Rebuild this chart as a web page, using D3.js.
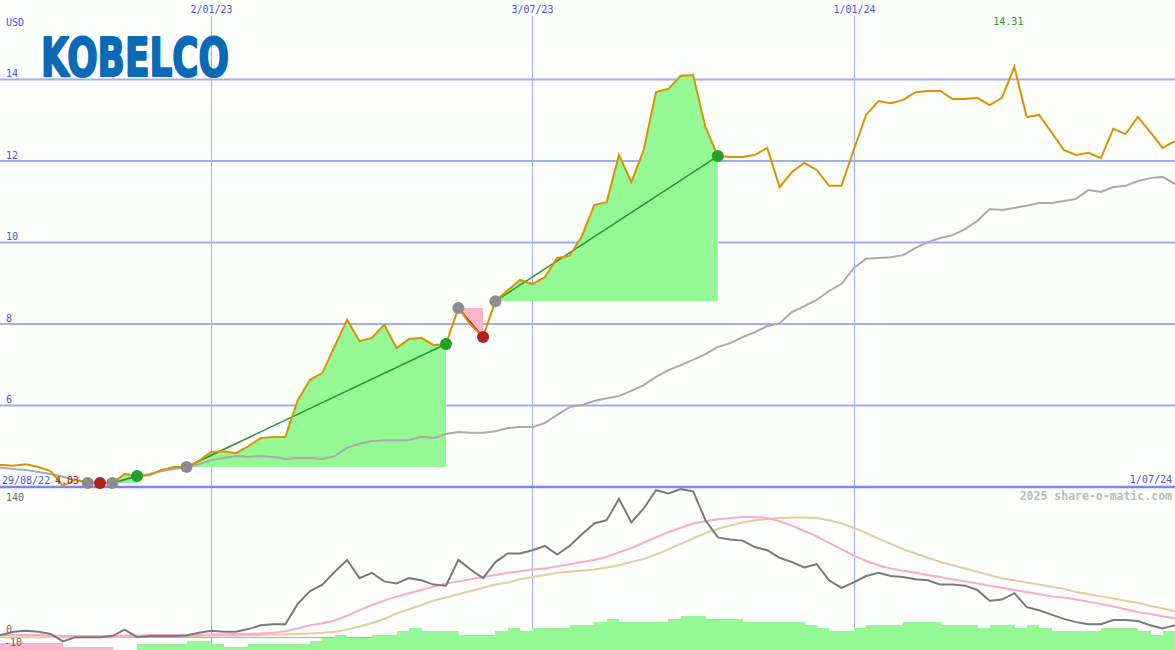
<!DOCTYPE html>
<html><head><meta charset="utf-8">
<script src="https://cdn.jsdelivr.net/npm/d3@7"></script>
<style>html,body{margin:0;padding:0;background:#fcfffc;overflow:hidden}svg{display:block}</style>
</head><body><svg id="c" width="1175" height="650"></svg>
<script>
// ---------- data ----------
const firstWeek = "2022-08-29";           // weekly closes, one per Monday
const price = [4.55,4.54,4.52,4.56,4.49,4.39,4.03,4.17,4.10,4.10,4.10,4.32,4.27,4.29,4.42,4.49,4.49,4.64,4.86,4.88,
  4.83,5.00,5.20,5.23,5.23,6.13,6.63,6.80,7.46,8.10,7.58,7.66,7.98,7.41,7.63,7.66,7.48,7.51,8.39,7.98,
  7.68,8.56,8.83,9.08,8.98,9.15,9.62,9.67,10.16,10.92,10.99,12.15,11.48,12.27,13.69,13.77,14.09,14.11,12.83,12.12,
  12.10,12.10,12.15,12.32,11.36,11.73,11.95,11.78,11.39,11.39,12.27,13.13,13.47,13.42,13.50,13.69,13.72,13.72,13.52,13.52,
  13.55,13.37,13.55,14.31,13.08,13.13,12.71,12.27,12.15,12.20,12.07,12.79,12.66,13.08,12.71,12.32,12.49];
const average = [4.48,4.47,4.44,4.42,4.37,4.32,4.25,4.17,4.12,4.10,4.10,4.17,4.27,4.32,4.39,4.44,4.49,4.56,4.66,4.71,
  4.76,4.74,4.76,4.74,4.69,4.71,4.71,4.69,4.76,4.96,5.06,5.13,5.15,5.15,5.15,5.23,5.20,5.30,5.35,5.33,
  5.33,5.37,5.45,5.47,5.47,5.57,5.77,5.96,6.01,6.11,6.18,6.23,6.36,6.50,6.70,6.87,6.99,7.12,7.26,7.44,
  7.53,7.68,7.80,7.95,8.02,8.29,8.44,8.59,8.81,8.98,9.37,9.60,9.62,9.64,9.69,9.87,10.01,10.11,10.18,10.33,
  10.53,10.82,10.80,10.85,10.90,10.97,10.97,11.02,11.07,11.29,11.24,11.36,11.39,11.51,11.58,11.61,11.44];
const momentum = [2,2,5,6,5,3,-4,0,0,0,1,7,0,1,1,1,1.5,4,6,5,
  5,7.5,11,12,12,31,43,49,61,72,55,60,52,50,55,53,49,48,72,63,
  55,70,78,78,81,85,77,85,96,106,109,129,107,120,137,134,138,136,109,93,
  91,90,84,81,74,70,65,68,53,46,51,57,60,57,56,54,53,49,49,48,
  44,34,35,41,28,25,21,17,14,12,12,16,16,15,11,8,11];
const fastAvg = [2,2,2,2,2,1.5,1,1,1,1,1,1.5,1.5,2,2,2,2,2,2.5,2.5,
  3,3,3.5,4,5.5,8,11,13,15.5,20,25,30,34,38,41,44,47,50,52,54,
  56,58,60,61.5,63,64,66,68,70,72,75,79,83,88,93,98,102,106,108,110,
  111,112,112,111,108,104,99,94,88,82,76,71,67,64,62,60,58,56,54,52,
  50,48,46,44,42,40,38,37,35,33,31,28.5,26,23.5,21.5,19.5,17.5];
const slowAvg = [0,0,0,0,0,0,0,0,0,0,0,0.5,0.5,1,1,1,1,1,1.5,1.5,
  1.5,2,2,2.5,2.5,3,3.5,4,5,7,10,13,17,22,26,30,34,37,40,43,
  46,49,51,54,56,58,60,61,62,63,65,67,70,73,77,82,87,92,97,101,
  104,107,109,110,111,111.5,111.5,111,109,106,102,97,92,87,82,78,74,70,67,64,
  61,58,55,53,51,49,47,45,42,40,38,36,34,32,29,27,24];
const strength = [-7,-7,-7,-7,-7,-7,-7,-3,-3,-3,-3,0,0,6,6,6,6,9,9,6,
  3,3,6,6,6,6,6,9,12,15,12,12,15,15,19,22,19,19,19,15,
  15,15,19,22,19,22,22,22,25,25,28,31,28,28,28,28,31,34,34,31,
  31,31,28,28,28,28,28,25,22,19,19,22,25,25,25,28,28,28,25,25,
  25,22,25,25,22,25,22,19,19,19,19,22,22,22,19,15,19];
const signalFrom = [8,10,16,38,41];
const signalTo   = [9,12,37,40,59];
const signalDir  = ["down","up","up","down","up"];
const timeTicks = ["2023-01-02","2023-07-03","2024-01-01"];
const timeTickLabels = ["2/01/23","3/07/23","1/01/24"];
const priceTicks = [6,8,10,12,14];
const lowerTicks = [140,0,-10];
const firstLabel = "29/08/22", lastLabel = "1/07/24";

// ---------- setup ----------
const W = 1175, H = 650, SPLIT = 487;
const svg = d3.select("#c");
const parse = d3.utcParse("%Y-%m-%d");
const start = parse(firstWeek);
const dates = price.map((_, i) => d3.utcDay.offset(start, 7 * i));
const x = d3.scaleUtc().domain([new Date(Date.UTC(2022, 8, 4, 8)), new Date(Date.UTC(2024, 6, 1))]).range([0, W]);
const y = d3.scaleLinear().domain([4, 4 + SPLIT / 40.75]).range([SPLIT, 0]);
const yL = d3.scaleLinear().domain([-12, 140]).range([H, SPLIT]);
const yB = d3.scaleLinear().domain([0, 100]).range([H, H - 100]);
const GRID = "#a3aef2", BLUE = "#4d55e6", MONO = "'DejaVu Sans Mono', monospace";

svg.append("rect").attr("width", W).attr("height", H).attr("fill", "#fcfffc");

// vertical grid
timeTicks.forEach((t, k) => {
  const xx = Math.round(x(parse(t))) + 0.5;
  svg.append("line").attr("x1", xx).attr("x2", xx).attr("y1", 16).attr("y2", H)
    .attr("stroke", GRID).attr("stroke-width", 1);
  svg.append("text").attr("x", xx).attr("y", 13).attr("text-anchor", "middle")
    .attr("font-family", MONO).attr("font-size", 10).attr("fill", BLUE).text(timeTickLabels[k]);
});
// horizontal grid
priceTicks.forEach(v => {
  svg.append("line").attr("x1", 0).attr("x2", W).attr("y1", y(v)).attr("y2", y(v))
    .attr("stroke", GRID).attr("stroke-width", 2);
  svg.append("text").attr("x", 6).attr("y", y(v) - 2.5).attr("font-family", MONO)
    .attr("font-size", 10).attr("fill", BLUE).text(v);
});

// lower zero line
svg.append("line").attr("x1", 0).attr("x2", W).attr("y1", Math.round(yL(0)) + 0.5).attr("y2", Math.round(yL(0)) + 0.5)
  .attr("stroke", GRID).attr("stroke-width", 1);

// signal fills
signalFrom.forEach((f, k) => {
  const t = signalTo[k];
  const idx = d3.range(f, t + 1);
  const area = d3.area().x(i => x(dates[i])).y0(y(price[f])).y1(i => y(price[i]));
  svg.append("path").attr("d", area(idx))
    .attr("fill", signalDir[k] === "up" ? "#94f994" : "#ffb3cc");
});

// strength bars
strength.forEach((v, i) => {
  if (i === 0 || v === 0) return;
  const x0 = x(dates[i - 1]), x1 = x(dates[i]);
  svg.append("rect").attr("x", x0).attr("width", x1 - x0 + 0.3)
    .attr("y", yB(Math.abs(v))).attr("height", yB(0) - yB(Math.abs(v)))
    .attr("fill", v > 0 ? "#94f994" : "#ffb3cc").attr("shape-rendering", "crispEdges");
});

// lower lines
const lineL = arr => d3.line().x((d, i) => x(dates[i])).y(d => yL(d))(arr);
svg.append("path").attr("d", lineL(slowAvg)).attr("fill", "none").attr("stroke", "#e6cc9c").attr("stroke-width", 2);
svg.append("path").attr("d", lineL(fastAvg)).attr("fill", "none").attr("stroke", "#ffaacc").attr("stroke-width", 2);
svg.append("path").attr("d", lineL(momentum)).attr("fill", "none").attr("stroke", "#7a7a7a").attr("stroke-width", 2);

// moving average
const lineU = d3.line().x((d, i) => x(dates[i])).y(d => y(d));
svg.append("path").attr("d", lineU(average)).attr("fill", "none").attr("stroke", "#aaaaaa").attr("stroke-width", 2);

// trend lines
signalFrom.forEach((f, k) => {
  const t = signalTo[k];
  svg.append("line").attr("x1", x(dates[f])).attr("y1", y(price[f])).attr("x2", x(dates[t])).attr("y2", y(price[t]))
    .attr("stroke", signalDir[k] === "up" ? "#229a2a" : "#a82020").attr("stroke-width", 1.5);
});

// price
svg.append("path").attr("d", lineU(price)).attr("fill", "none").attr("stroke", "#dd9200").attr("stroke-width", 2);

// separator
svg.append("line").attr("x1", 0).attr("x2", W).attr("y1", SPLIT).attr("y2", SPLIT)
  .attr("stroke", "#7b87ee").attr("stroke-width", 2.5);

// markers
signalFrom.forEach((f, k) => {
  const t = signalTo[k];
  svg.append("circle").attr("cx", x(dates[f])).attr("cy", y(price[f])).attr("r", 6).attr("fill", "#8c8c8c");
  svg.append("circle").attr("cx", x(dates[t])).attr("cy", y(price[t])).attr("r", 6)
    .attr("fill", signalDir[k] === "up" ? "#26a026" : "#b02222");
});

// texts
const txt = (s, xx, yy, opts = {}) => svg.append("text").attr("x", xx).attr("y", yy)
  .attr("font-family", MONO).attr("font-size", opts.size || 10).attr("fill", opts.fill || BLUE)
  .attr("text-anchor", opts.anchor || "start").attr("font-weight", opts.weight || "normal").text(s);
txt("USD", 6, 26);
txt(firstLabel, 2, 484);
txt(lastLabel, 1172, 483, {anchor: "end"});
const minI = d3.minIndex(price), maxI = d3.maxIndex(price);
txt(price[minI].toFixed(2), x(dates[minI]) - 8, 484, {fill: "#a82020"});
txt(price[maxI].toFixed(2), x(dates[maxI]) - 6, 25, {fill: "#22a022", anchor: "middle"});
txt("2025 share-o-matic.com", 1172, 500, {fill: "#bbbbbb", size: 11.5, anchor: "end", weight: "bold"});
txt(lowerTicks[0], 6, 501, {fill: "#666"});
txt(lowerTicks[1], 6, yL(lowerTicks[1]) - 4, {fill: "#666"});
txt(lowerTicks[2], 4, yL(lowerTicks[2]) - 2, {fill: "#666"});

// logo
svg.append("text").attr("x", 41).attr("y", 76).attr("font-family", "'DejaVu Sans', sans-serif")
  .attr("font-weight", "bold").attr("font-size", 53).attr("fill", "#0a6ab8")
  .attr("stroke", "#0a6ab8").attr("stroke-width", 2.2).attr("stroke-linejoin", "round")
  .attr("textLength", 188).attr("lengthAdjust", "spacingAndGlyphs").text("KOBELCO");
</script></body></html>
